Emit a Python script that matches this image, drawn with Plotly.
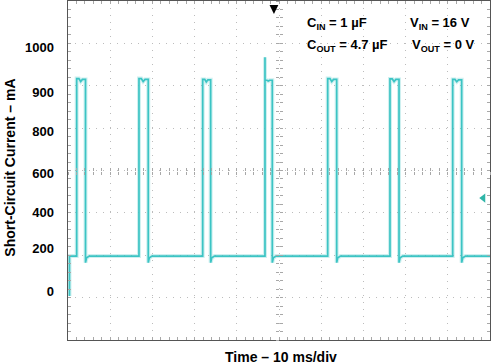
import plotly.graph_objects as go

# ---- data (time in ms, current on a linear mA scale of 200 mA/div) ----
pulse_rise_ms = [2.06, 16.82, 31.92, 46.68, 61.54, 76.30, 91.16]
pulse_fall_ms = [4.15, 19.02, 33.81, 48.41, 63.67, 78.44, 93.29]
pulse_peak_left_mA = [1034, 1034, 1030, 1026, 1034, 1032, 1030]
pulse_peak_mid_mA = [1020, 1020, 1018, 1022, 1020, 1020, 1019]
pulse_peak_right_mA = [1030, 1030, 1028, 1026, 1030, 1030, 1028]
pulse_spike_mA = [None, None, None, 1135, None, None, None]
baseline_mA = 196
undershoot_mA = 165
start_t_ms = 0.35
start_mA = 8
end_t_ms = 100

ref_marker_t_ms = [98.4]
ref_marker_mA = [470]
trigger_t_ms = 48.8

y_tick_vals = [1183, 970, 786, 588, 400, 234, 27]
y_tick_text = ["1000", "900", "800", "600", "400", "200", "0"]

# ---- build the step waveform from the read edges and levels ----
t, y = [start_t_ms, start_t_ms], [start_mA, baseline_mA]
for i in range(len(pulse_rise_ms)):
    r, f = pulse_rise_ms[i], pulse_fall_ms[i]
    w = f - r
    t += [r]
    y += [baseline_mA]
    if pulse_spike_mA[i] is not None:
        t += [r, r]
        y += [pulse_spike_mA[i], pulse_peak_left_mA[i]]
    else:
        t += [r]
        y += [pulse_peak_left_mA[i]]
    t += [r + 0.25 * w, r + 0.45 * w, r + 0.65 * w, f, f, f + 0.25, f + 0.9]
    y += [pulse_peak_left_mA[i], pulse_peak_mid_mA[i], pulse_peak_right_mA[i],
          pulse_peak_right_mA[i], undershoot_mA, baseline_mA - 8, baseline_mA]
t += [end_t_ms]
y += [baseline_mA]

teal = "#3cc4c4"
fig = go.Figure()
# empty traces so that the helper axes (labels, centre ticks) are drawn
for xa, ya in [("x", "y2"), ("x2", "y"), ("x3", "y"), ("x", "y3"), ("x", "y4")]:
    fig.add_trace(go.Scatter(x=[None], y=[None], xaxis=xa, yaxis=ya, mode="lines",
                             hoverinfo="skip"))
fig.add_trace(go.Scatter(x=t, y=y, mode="lines",
                         line=dict(color="rgba(60,196,196,0.25)", width=4),
                         hoverinfo="skip"))
fig.add_trace(go.Scatter(x=t, y=y, mode="lines", line=dict(color=teal, width=1.7)))
fig.add_trace(go.Scatter(x=ref_marker_t_ms, y=ref_marker_mA, mode="markers",
                         marker=dict(symbol="triangle-left", size=8, color="#2fb5a8")))

font_b = "Liberation Sans, Arial, Helvetica, sans-serif"
grid_col = "#bcbcbc"
tick_col = "#a8a8a8"

helper = dict(showticklabels=False, showgrid=False, showline=False, zeroline=False,
              tickcolor=tick_col, ticklen=3, automargin=False)

fig.update_layout(
    width=491, height=364,
    margin=dict(l=68, r=1, t=1, b=24),
    plot_bgcolor="white", paper_bgcolor="white",
    showlegend=False,
    font=dict(family=font_b, size=13, color="black"),
    xaxis=dict(range=[0, 100], tickmode="linear", tick0=0, dtick=10,
               showgrid=True, gridcolor=grid_col, griddash="1px,6px", gridwidth=1,
               showticklabels=False, ticks="inside", ticklen=3, tickcolor=tick_col,
               mirror="allticks", showline=True, linecolor="#555555", linewidth=1,
               zeroline=False, automargin=False,
               minor=dict(tickmode="linear", tick0=0, dtick=2, ticks="inside",
                          ticklen=3, tickcolor=tick_col)),
    yaxis=dict(range=[-200, 1400], tickmode="linear", tick0=-200, dtick=200,
               showgrid=True, gridcolor=grid_col, griddash="1px,6px", gridwidth=1,
               showticklabels=False, ticks="inside", ticklen=3, tickcolor=tick_col,
               mirror="allticks", showline=True, linecolor="#555555", linewidth=1,
               zeroline=False, automargin=False,
               minor=dict(tickmode="linear", tick0=-200, dtick=40, ticks="inside",
                          ticklen=3, tickcolor=tick_col)),
    yaxis2=dict(overlaying="y", side="left", anchor="x", range=[-200, 1400],
                tickmode="array", tickvals=y_tick_vals, ticktext=y_tick_text,
                showgrid=False, zeroline=False, showline=False, ticks="",
                ticklabelstandoff=13, automargin=False,
                tickfont=dict(family=font_b, size=13, color="black", weight="bold")),
    xaxis2=dict(overlaying="x", anchor="free", position=0.5, range=[0, 100],
                tickmode="linear", tick0=0, dtick=2, ticks="outside", **helper),
    xaxis3=dict(overlaying="x", anchor="free", position=0.5, range=[0, 100],
                tickmode="linear", tick0=0, dtick=2, ticks="inside", **helper),
    yaxis3=dict(overlaying="y", anchor="free", position=0.5, range=[-200, 1400],
                tickmode="linear", tick0=-200, dtick=40, ticks="outside", **helper),
    yaxis4=dict(overlaying="y", anchor="free", position=0.5, range=[-200, 1400],
                tickmode="linear", tick0=-200, dtick=40, ticks="inside", **helper),
)

bold = dict(family=font_b, size=13, color="black", weight="bold")
ann = [
    dict(text="Short-Circuit Current – mA", x=-0.137, y=0.509, textangle=-90,
         font=dict(family=font_b, size=14, color="black", weight="bold")),
    dict(text="Time – 10 ms/div", x=0.505, y=-0.05,
         font=dict(family=font_b, size=14, color="black", weight="bold")),
    dict(text="C<sub>IN</sub> = 1 µF", x=0.5616, y=0.935, xanchor="left", font=bold),
    dict(text="V<sub>IN</sub> = 16 V", x=0.806, y=0.935, xanchor="left", font=bold),
    dict(text="C<sub>OUT</sub> = 4.7 µF", x=0.5616, y=0.870, xanchor="left", font=bold),
    dict(text="V<sub>OUT</sub> = 0 V", x=0.810, y=0.870, xanchor="left", font=bold),
]
for a in ann:
    a.setdefault("xanchor", "center")
    fig.add_annotation(xref="paper", yref="paper", showarrow=False, yanchor="middle", **a)

fig.add_annotation(x=trigger_t_ms, xref="x", y=0.962, yref="paper", text="",
                   showarrow=True, ax=0, ay=-10, arrowhead=2, arrowsize=1.1,
                   arrowwidth=1.6, arrowcolor="black")

fig.write_html("out.html", config={"displayModeBar": False},
               post_script="document.body.style.margin='0';document.body.style.padding='0';")
